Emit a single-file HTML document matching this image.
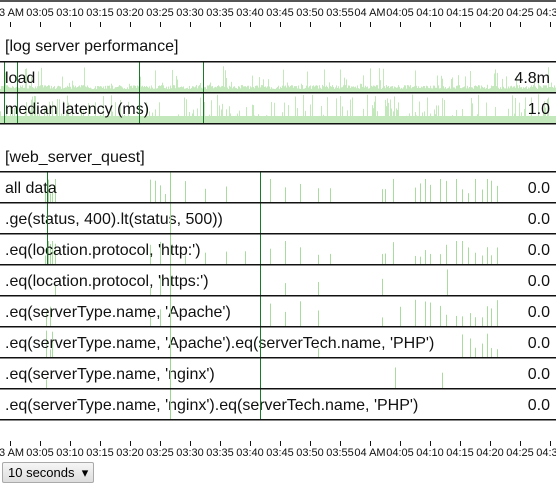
<!DOCTYPE html>
<html><head><meta charset="utf-8"><style>
body{margin:0;background:#fff;width:556px;height:490px;overflow:hidden;font-family:"Liberation Sans",sans-serif}
svg text{font-family:"Liberation Sans",sans-serif}
.sel{position:absolute;left:2px;top:462px;width:85px;height:19px;border:1px solid #aaa;border-radius:2px;background:linear-gradient(#f6f6f6,#ddd);font-size:13px;line-height:19px;padding-left:5px;box-sizing:content-box}
</style></head><body>
<svg id="s" width="556" height="490" style="position:absolute;left:0;top:0">
<rect x="0" y="0" width="556" height="2" fill="#555"/>
<g id="bars"></g>
<g id="axis" font-size="11" fill="#111"></g>
<g font-size="16" fill="#111">
<text x="5" y="51">[log server performance]</text>
<text x="5" y="83">load</text><text x="550" y="83" text-anchor="end">4.8m</text>
<text x="5" y="114">median latency (ms)</text><text x="550" y="114" text-anchor="end">1.0</text>
<text x="5" y="162">[web_server_quest]</text>
<text x="5" y="193">all data</text>
<text x="5" y="224">.ge(status, 400).lt(status, 500))</text>
<text x="5" y="255">.eq(location.protocol, 'http:')</text>
<text x="5" y="286">.eq(location.protocol, 'https:')</text>
<text x="5" y="317">.eq(serverType.name, 'Apache')</text>
<text x="5" y="348">.eq(serverType.name, 'Apache').eq(serverTech.name, 'PHP')</text>
<text x="5" y="379">.eq(serverType.name, 'nginx')</text>
<text x="5" y="410">.eq(serverType.name, 'nginx').eq(serverTech.name, 'PHP')</text>
</g>
<g id="vals" font-size="16" fill="#111"></g>
<g id="lines"></g>
</svg>
<div class="sel">10 seconds &nbsp;▾</div>
<script>
var ns="http://www.w3.org/2000/svg";
function el(p,t,a){var e=document.createElementNS(ns,t);for(var k in a)e.setAttribute(k,a[k]);document.getElementById(p).appendChild(e);return e;}
var seed=7;function r(){seed=(seed*16807)%2147483647;return seed/2147483647;}
var labels=["3 AM","03:05","03:10","03:15","03:20","03:25","03:30","03:35","03:40","03:45","03:50","03:55","04 AM","04:05","04:10","04:15","04:20","04:25","04:30"];
[[16,22],[456,441]].forEach(function(a,j){
 for(var i=0;i<labels.length;i++){var x=10+30*i;
  var t=el("axis","text",{x:i==0?-1:x,y:a[0],"text-anchor":i==0?"start":"middle"});t.textContent=labels[i];
  el("axis","rect",{x:x,y:a[1],width:1,height:5,fill:"#111"});}
});
for(var x=0;x<556;x++){
 var h=4+r()*4; if(r()<0.12)h+=r()*20; if(x>430&&x<470&&r()<0.3)h+=10;
 el("bars","rect",{x:x,y:93-h,width:1,height:h,fill:"#c3e8bb"});
 var h2=8; if(r()<0.3)h2+=r()*22;
 el("bars","rect",{x:x,y:124-h2,width:1,height:h2,fill:"#c3e8bb"});
}
var rows=[172,203,234,265,296,327,358,389];
var xs=[[45,48,50,52,55,150,155,160,165,170,185,205,226,260,270,285,300,318,330,382,385,393,415,420,425,430,440,446,456,462,468,475,482,487,491,497],[],
[45,48,50,52,55,150,160,170,185,205,226,245,270,285,300,318,330,382,385,393,415,420,425,430,440,446,456,462,468,475,482,487,491,497],
[55,150,160,260,285,318,382,447],[46,50,150,160,270,285,300,318,382,400,415,425,430,440,446,456,462,470,475,482,487,491,497],
[46,50,52,318,462,470,475,482,487,491,497],[46,395,442],[]];
rows.forEach(function(y,i){xs[i].forEach(function(x){var h=8+r()*20;if(i==0||i==2)h=Math.min(h,24);
 el("bars","rect",{x:x,y:y+31-h,width:1,height:h,fill:"#a8dc9e"});});
 var t=el("vals","text",{x:550,y:y+21,"text-anchor":"end"});t.textContent="0.0";});
[[4,62,124],[17,62,124],[139,62,124],[203,62,124],[47,172,265],[260,172,420]].forEach(function(d){
 el("lines","rect",{x:d[0],y:d[1],width:1,height:d[2]-d[1],fill:"#1a7a2a"});});
el("lines","rect",{x:170,y:172,width:1,height:248,fill:"#9bd68e"});
[62,93,124,172,203,234,265,296,327,358,389,420].forEach(function(y){el("lines","rect",{x:0,y:y-1,width:556,height:1.5,fill:"#111"});});
</script>
</body></html>
